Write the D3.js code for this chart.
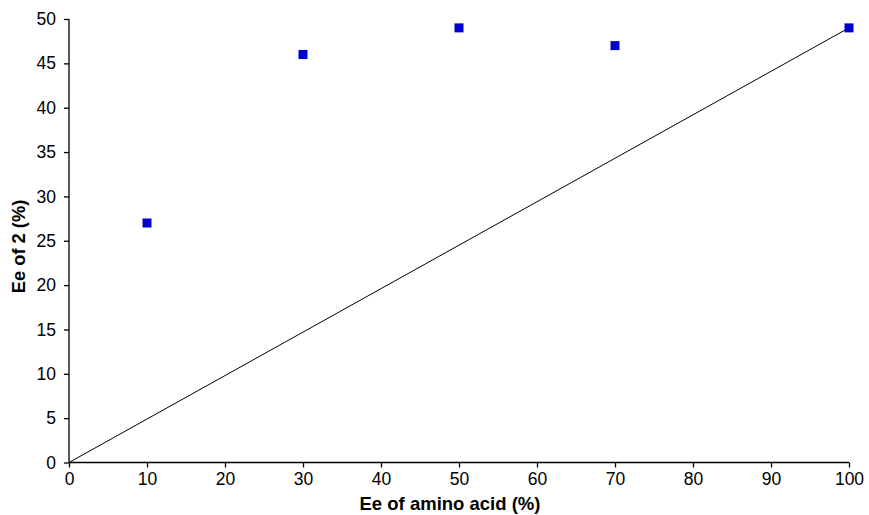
<!DOCTYPE html>
<html>
<head>
<meta charset="utf-8">
<script src="https://cdn.jsdelivr.net/npm/d3@7"></script>
<style>
  body { margin: 0; background: #fff; }
  svg { font-family: "Liberation Sans", Arial, sans-serif; }
</style>
</head>
<body>
<div id="chart"></div>
<script>
var svgWidth = 869;
var svgHeight = 515;

var margin = { top: 19, right: 20, bottom: 52.5, left: 69 };
var width = 849 - margin.left;
var height = 462.5 - margin.top;

// data
var eeAmino = [10, 30, 50, 70, 100];
var eeProduct = [27, 46, 49, 47, 49];
var lineX = [0, 100];
var lineY = [0, 49];
var xTicks = [0, 10, 20, 30, 40, 50, 60, 70, 80, 90, 100];
var yTicks = [0, 5, 10, 15, 20, 25, 30, 35, 40, 45, 50];

var svg = d3.select("#chart")
  .append("svg")
  .attr("width", svgWidth)
  .attr("height", svgHeight);

var chartGroup = svg.append("g")
  .attr("transform", "translate(" + margin.left + "," + margin.top + ")");

var xScale = d3.scaleLinear().domain([0, 100]).range([0, width]);
var yScale = d3.scaleLinear().domain([0, 50]).range([height, 0]);

var bottomAxis = d3.axisBottom(xScale).tickValues(xTicks).tickSize(5).tickPadding(5);
var leftAxis = d3.axisLeft(yScale).tickValues(yTicks).tickSize(5).tickPadding(8);

var xg = chartGroup.append("g")
  .attr("transform", "translate(0," + height + ")")
  .call(bottomAxis);
var yg = chartGroup.append("g").call(leftAxis);

[xg, yg].forEach(function(g) {
  g.select(".domain").attr("stroke", "#000").attr("stroke-width", 1.3);
  g.selectAll(".tick line").attr("stroke", "#000").attr("stroke-width", 1.3);
  g.selectAll(".tick text")
    .attr("fill", "#000")
    .style("font-size", "17.5px")
    .style("font-family", "Liberation Sans, Arial, sans-serif");
});
xg.select(".domain").attr("d", "M0,0H" + width);
yg.select(".domain").attr("d", "M0," + height + "V0");

// diagonal line
chartGroup.append("line")
  .attr("x1", xScale(lineX[0]))
  .attr("y1", yScale(lineY[0]))
  .attr("x2", xScale(lineX[1]))
  .attr("y2", yScale(lineY[1]))
  .attr("stroke", "#000")
  .attr("stroke-width", 1);

// points
var sq = 9;
chartGroup.selectAll("rect.pt")
  .data(eeAmino)
  .enter()
  .append("rect")
  .attr("class", "pt")
  .attr("x", function(d) { return xScale(d) - sq / 2; })
  .attr("y", function(d, i) { return yScale(eeProduct[i]) - sq / 2; })
  .attr("width", sq)
  .attr("height", sq)
  .attr("fill", "#0000cc");

// axis titles
svg.append("text")
  .attr("x", 450)
  .attr("y", 510)
  .attr("text-anchor", "middle")
  .style("font-size", "18.5px")
  .style("font-weight", "bold")
  .text("Ee of amino acid (%)");

svg.append("text")
  .attr("transform", "translate(25,246.5) rotate(-90)")
  .attr("text-anchor", "middle")
  .style("font-size", "18.3px")
  .style("font-weight", "bold")
  .text("Ee of 2 (%)");
</script>
</body>
</html>
